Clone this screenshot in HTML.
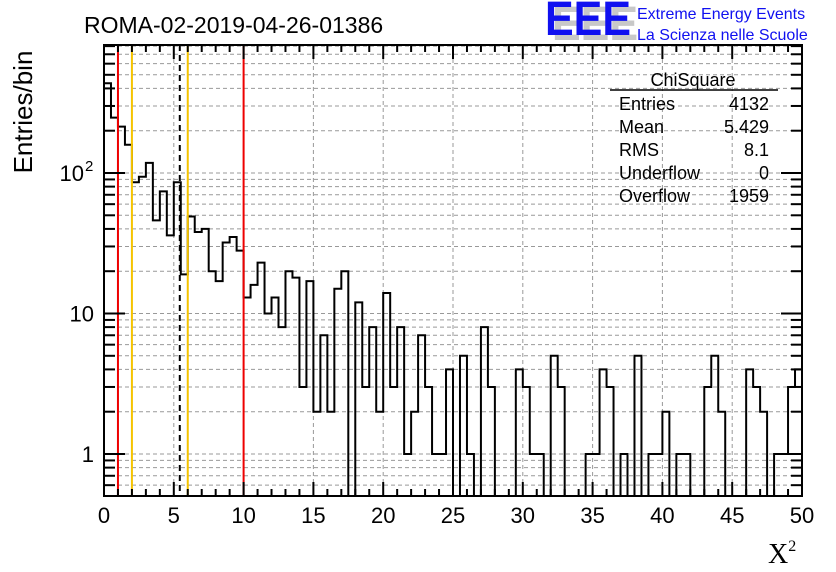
<!DOCTYPE html>
<html><head><meta charset="utf-8"><style>
body{margin:0;background:#fff}
svg{display:block;font-family:"Liberation Sans",sans-serif}
</style></head><body>
<svg id="chart" width="836" height="572" viewBox="0 0 836 572">
<text x="84" y="33" font-size="23">ROMA-02-2019-04-26-01386</text>
<g>
<text x="552" y="40" font-size="48" font-weight="bold" fill="#c8c8c8" textLength="86" lengthAdjust="spacingAndGlyphs">EEE</text>
<text x="545" y="35" font-size="48" font-weight="bold" fill="#1010f0" textLength="86" lengthAdjust="spacingAndGlyphs">EEE</text>
<text x="637" y="19" font-size="16" fill="#1010f0">Extreme Energy Events</text>
<text x="637" y="40" font-size="16" fill="#1010f0">La Scienza nelle Scuole</text>
</g>
<g id="grid"></g>
<g id="marks"></g>
<g id="axes"></g>
<g font-size="18">
<text x="693" y="86" text-anchor="middle">ChiSquare</text>
<line x1="610" y1="90" x2="778" y2="90" stroke="#000" stroke-width="1.5"/>
<text x="619" y="110">Entries</text><text x="769" y="110" text-anchor="end">4132</text>
<text x="619" y="133">Mean</text><text x="769" y="133" text-anchor="end">5.429</text>
<text x="619" y="156">RMS</text><text x="769" y="156" text-anchor="end">8.1</text>
<text x="619" y="179">Underflow</text><text x="769" y="179" text-anchor="end">0</text>
<text x="619" y="202">Overflow</text><text x="769" y="202" text-anchor="end">1959</text>
</g>
<text transform="translate(32,112) rotate(-90)" font-size="26" text-anchor="middle">Entries/bin</text>
<text x="768" y="563" font-size="28" font-family="Liberation Serif,serif">X<tspan font-size="16" dy="-12">2</tspan></text>
</svg>
<script>
const binCounts=[435,248,214,159,86,94,118,46,74,36,86,19,49,38,40,20,17,32,35,28,13,16,23,10,13,8,20,18,3,17,2,7,2,15,20,0,12,3,8,2,14,3,8,1,2,7,3,1,1,4,0,5,1,0,8,3,0,0,0,4,3,1,1,0,5,3,0,0,0,1,1,4,3,0,1,0,5,0,1,1,2,0,1,1,0,0,3,5,2,0,0,0,4,3,2,0,1,1,3,4];
const xTicks=[0,5,10,15,20,25,30,35,40,45,50];
const yTickValues=[1,10,100];
const yTickBase=["1","10","10"];
const yTickExp=["","","2"];
const cutLinesRed=[1,10];
const cutLinesYellow=[2,6];
const meanLine=[5.429];
const X0=104,X1=802,Y0=496,Y1=45,XMIN=0,XMAX=50,YMIN=0.5;
const YDEC=140.5;
function sx(v){return X0+(v-XMIN)/(XMAX-XMIN)*(X1-X0);}
function sy(v){if(v<=YMIN)return Y0;return 454-YDEC*Math.log10(v);}
const NS="http://www.w3.org/2000/svg";
function mk(tag,attrs,parent){const e=document.createElementNS(NS,tag);for(const k in attrs)e.setAttribute(k,attrs[k]);parent.appendChild(e);return e;}
const grid=document.getElementById('grid'),marks=document.getElementById('marks'),axes=document.getElementById('axes');
for(const t of xTicks){if(t>XMIN&&t<XMAX){const l=mk('line',{x1:sx(t),x2:sx(t),y1:Y1,y2:Y0,stroke:'#999','stroke-dasharray':'4,3','stroke-width':1},grid);

}}
for(let d=-1;d<=2;d++){for(let m=1;m<=9;m++){const v=m*Math.pow(10,d);const y=sy(v);if(v>YMIN&&y>Y1){const l=mk('line',{x1:X0,x2:X1,y1:y,y2:y,stroke:'#999','stroke-dasharray':'4,3','stroke-width':1},grid);

}}}
const bw=(XMAX-XMIN)/binCounts.length;
let d='M'+sx(0)+','+Y0;
binCounts.forEach((c,i)=>{const y=sy(c);d+=' L'+sx(i*bw)+','+y+' L'+sx((i+1)*bw)+','+y;});
d+=' L'+sx(XMAX)+','+Y0;
const h=mk('path',{d:d,fill:'none',stroke:'#000','stroke-width':2},marks);


function vline(v,color,name,dash){const l=mk('line',{x1:sx(v),x2:sx(v),y1:Y1,y2:Y0,stroke:color,'stroke-width':2},marks);if(dash)l.setAttribute('stroke-dasharray',dash);

}
cutLinesRed.forEach(v=>vline(v,'#ee0000','red-cut-line'));
cutLinesYellow.forEach(v=>vline(v,'#f5c400','yellow-cut-line'));
meanLine.forEach(v=>vline(v,'#000','mean-dashed-line','6,4'));
const fr=mk('rect',{x:X0,y:Y1,width:X1-X0,height:Y0-Y1,fill:'none',stroke:'#000','stroke-width':2},axes);


for(let v=XMIN;v<=XMAX+1e-9;v+=1){const maj=(v%5===0);const L=maj?14:7;const x=sx(v);
mk('line',{x1:x,x2:x,y1:Y0,y2:Y0-L,stroke:'#000','stroke-width':2},axes);
mk('line',{x1:x,x2:x,y1:Y1,y2:Y1+L,stroke:'#000','stroke-width':2},axes);}
for(const t of xTicks){const tx=mk('text',{x:sx(t),y:523,'font-size':22,'text-anchor':'middle'},axes);tx.textContent=t;

}
for(let dd=-1;dd<=2;dd++){for(let m=1;m<=9;m++){const v=m*Math.pow(10,dd);const y=sy(v);if(v>=YMIN&&y>=Y1){const L=m===1?21:11;
mk('line',{x1:X0,x2:X0+L,y1:y,y2:y,stroke:'#000','stroke-width':2},axes);
mk('line',{x1:X1,x2:X1-L,y1:y,y2:y,stroke:'#000','stroke-width':2},axes);}}}
yTickValues.forEach((v,i)=>{const exp=yTickExp[i];const tx=mk('text',{x:exp?84:94,y:sy(v)+8,'font-size':22,'text-anchor':'end'},axes);tx.textContent=yTickBase[i];


if(exp){const sup=mk('text',{x:85,y:sy(v)-2,'font-size':15},axes);sup.textContent=exp;

}});
</script>
</body></html>
